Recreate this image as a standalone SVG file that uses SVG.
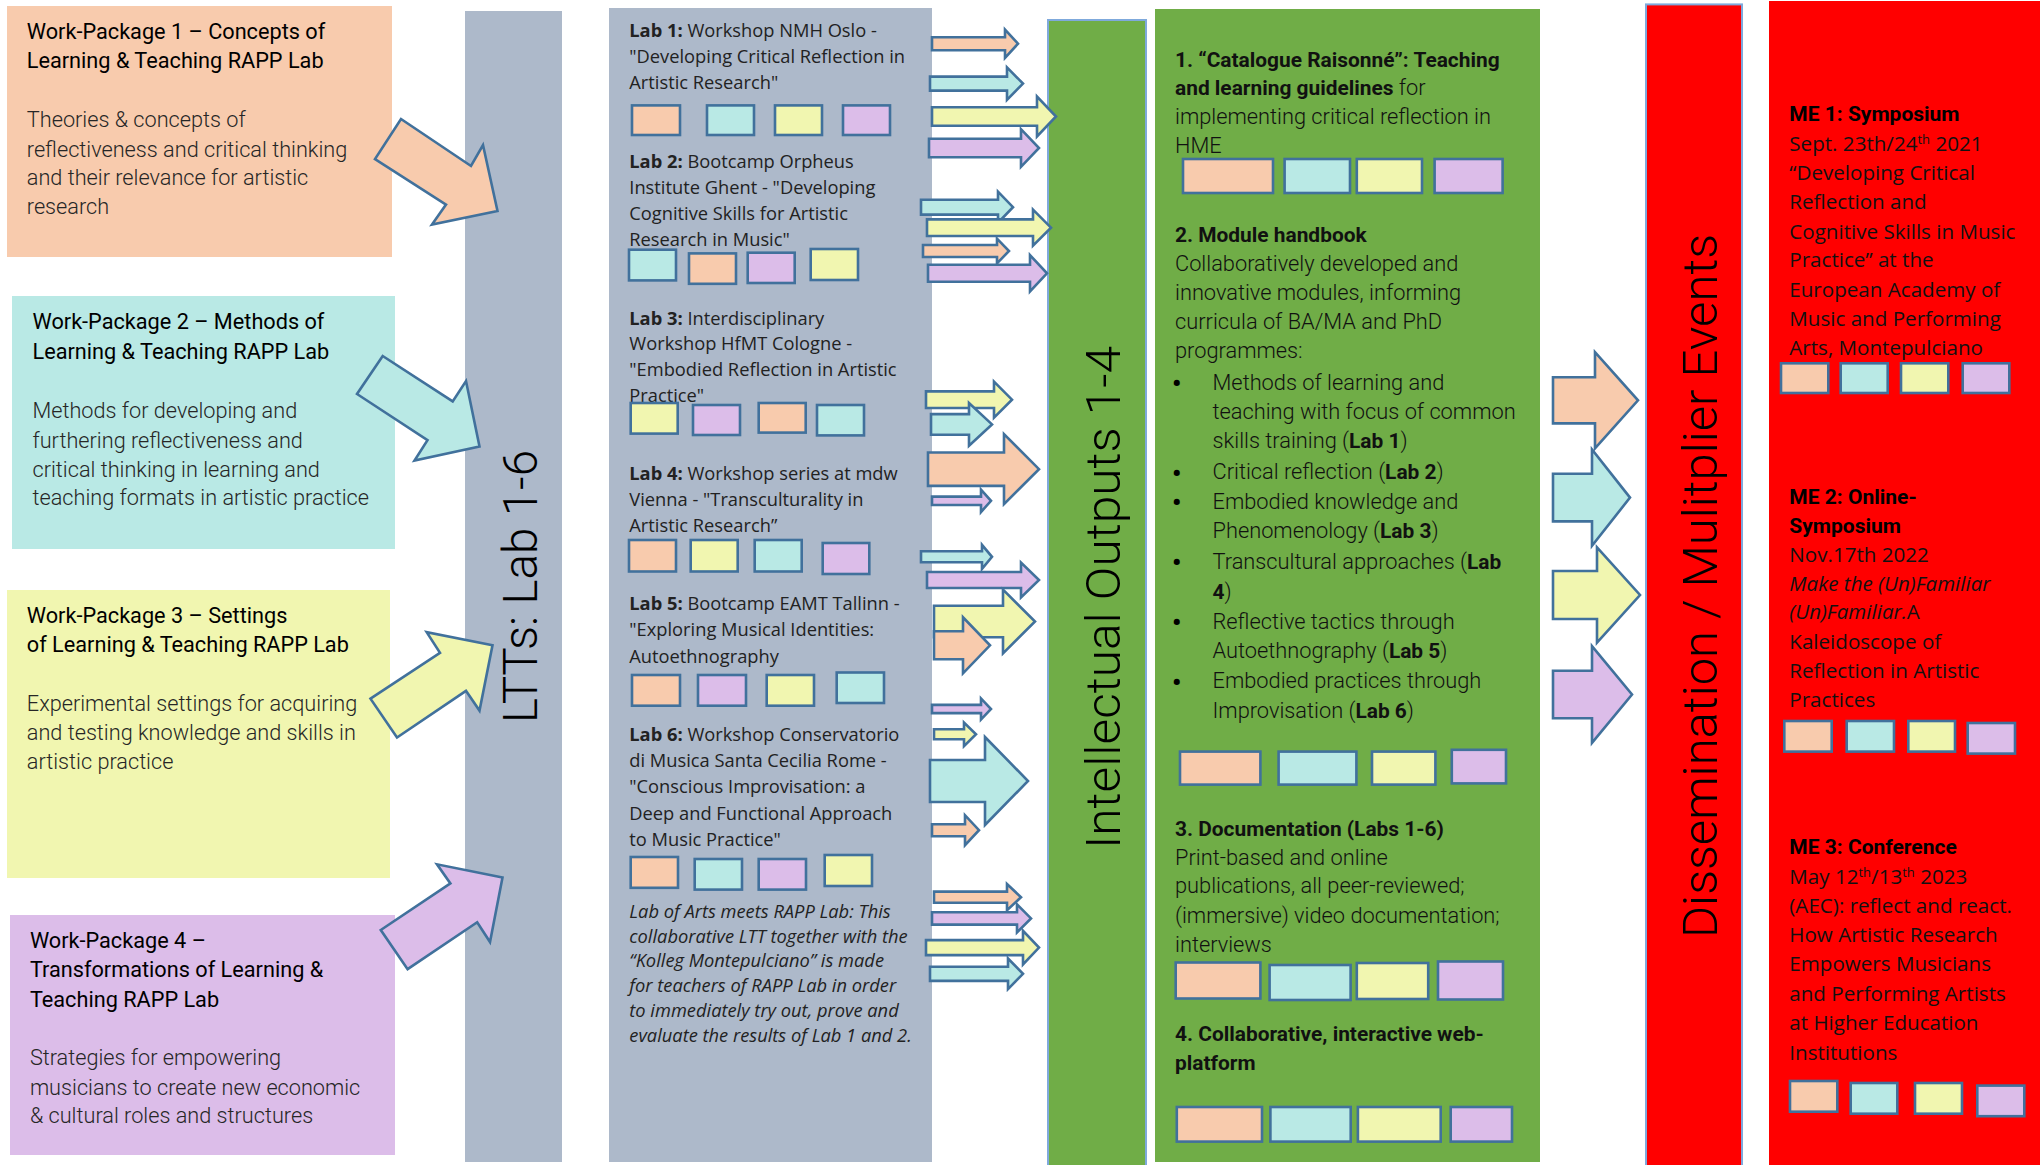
<svg xmlns="http://www.w3.org/2000/svg" width="2040" height="1165" viewBox="0 0 2040 1165">
<defs>
<style>
.wpt{font-family:Roboto,"Liberation Sans",sans-serif;font-size:21.7px;font-weight:400;fill:#000}
.wpb{font-family:Roboto,"Liberation Sans",sans-serif;font-size:21.7px;font-weight:300;fill:#262626}
.lab{font-family:"Open Sans","Liberation Sans",sans-serif;font-size:18.3px;fill:#222}
.labi{font-family:"Open Sans","Liberation Sans",sans-serif;font-size:18.3px;font-style:italic;fill:#222}
.io{font-family:Roboto,"Liberation Sans",sans-serif;font-size:21.8px;font-weight:300;fill:#111}
.io .b{font-size:20.9px}
.bul{font-family:Roboto,"Liberation Sans",sans-serif;font-size:26px;font-weight:700;fill:#000}
.me{font-family:"Open Sans","Liberation Sans",sans-serif;font-size:20.6px;fill:#111}
.meb{font-family:Roboto,"Liberation Sans",sans-serif;font-size:21px;font-weight:700;fill:#000}
.b{font-weight:700}
.big{font-family:Roboto,"Liberation Sans",sans-serif;font-size:48px;font-weight:300;fill:#000}
.pe{fill:#F8CBAD}.te{fill:#B9E9E5}.ye{fill:#F1F6B0}.la{fill:#DCBDE9}
.sq rect{stroke:#41719C;stroke-width:2.6}
.ar polygon{stroke:#41719C;stroke-width:2.6;stroke-linejoin:miter}
.bar{stroke:#7FA9DC;stroke-width:2}
</style>
</defs>
<rect width="2040" height="1165" fill="#fff"/>

<g id="wp1">
<rect x="7" y="6" width="385" height="251" class="pe"/>
<text class="wpt"><tspan x="26.8" y="38.8">Work-Package 1 – Concepts of</tspan><tspan x="26.8" y="68.4">Learning &amp; Teaching RAPP Lab</tspan></text>
<text class="wpb"><tspan x="26.8" y="126.9">Theories &amp; concepts of</tspan><tspan x="26.8" y="156.5">reflectiveness and critical thinking</tspan><tspan x="26.8" y="185">and their relevance for artistic</tspan><tspan x="26.8" y="213.8">research</tspan></text>
</g>
<g id="wp2">
<rect x="12" y="296" width="383" height="253" class="te"/>
<text class="wpt"><tspan x="32.5" y="329">Work-Package 2 – Methods of</tspan><tspan x="32.5" y="359">Learning &amp; Teaching RAPP Lab</tspan></text>
<text class="wpb"><tspan x="32.5" y="418">Methods for developing and</tspan><tspan x="32.5" y="447.6">furthering reflectiveness and</tspan><tspan x="32.5" y="476.5">critical thinking in learning and</tspan><tspan x="32.5" y="505.4">teaching formats in artistic practice</tspan></text>
</g>
<g id="wp3">
<rect x="7" y="590" width="383" height="288" class="ye"/>
<text class="wpt"><tspan x="26.8" y="622.9">Work-Package 3 – Settings</tspan><tspan x="26.8" y="651.6">of Learning &amp; Teaching RAPP Lab</tspan></text>
<text class="wpb"><tspan x="26.8" y="711.3">Experimental settings for acquiring</tspan><tspan x="26.8" y="740.4">and testing knowledge and skills in</tspan><tspan x="26.8" y="769.2">artistic practice</tspan></text>
</g>
<g id="wp4">
<rect x="10" y="915" width="385" height="240" class="la"/>
<text class="wpt"><tspan x="29.9" y="948.3">Work-Package 4 –</tspan><tspan x="29.9" y="977.4">Transformations of Learning &amp;</tspan><tspan x="29.9" y="1006.5">Teaching RAPP Lab</tspan></text>
<text class="wpb"><tspan x="29.9" y="1065">Strategies for empowering</tspan><tspan x="29.9" y="1095">musicians to create new economic</tspan><tspan x="29.9" y="1123.3">&amp; cultural roles and structures</tspan></text>
</g>

<g id="ltt">
<rect x="465" y="11" width="97" height="1151" fill="#ADB9CA"/>
<text class="big" transform="translate(536.5,586.5) rotate(-90)" text-anchor="middle" textLength="273" lengthAdjust="spacingAndGlyphs">LTTs: Lab 1-6</text>
</g>

<g id="labs">
<rect x="609" y="8" width="323" height="1154" fill="#ADB9CA"/>
<text class="lab"><tspan x="629.3" y="37"><tspan class="b">Lab 1:</tspan> Workshop NMH Oslo -</tspan><tspan x="629.3" y="62.9">"Developing Critical Reflection in</tspan><tspan x="629.3" y="88.8">Artistic Research"</tspan></text>
<text class="lab"><tspan x="629.3" y="168.3"><tspan class="b">Lab 2:</tspan> Bootcamp Orpheus</tspan><tspan x="629.3" y="194.2">Institute Ghent - "Developing</tspan><tspan x="629.3" y="220.1">Cognitive Skills for Artistic</tspan><tspan x="629.3" y="246">Research in Music"</tspan></text>
<text class="lab"><tspan x="629.3" y="324.5"><tspan class="b">Lab 3:</tspan> Interdisciplinary</tspan><tspan x="629.3" y="350.4">Workshop HfMT Cologne -</tspan><tspan x="629.3" y="376.3">"Embodied Reflection in Artistic</tspan><tspan x="629.3" y="402.2">Practice"</tspan></text>
<text class="lab"><tspan x="629.3" y="480.2"><tspan class="b">Lab 4:</tspan> Workshop series at mdw</tspan><tspan x="629.3" y="506">Vienna - "Transculturality in</tspan><tspan x="629.3" y="532">Artistic Research”</tspan></text>
<text class="lab"><tspan x="629.3" y="609.9"><tspan class="b">Lab 5:</tspan> Bootcamp EAMT Tallinn -</tspan><tspan x="629.3" y="636">"Exploring Musical Identities:</tspan><tspan x="629.3" y="662.8">Autoethnography</tspan></text>
<text class="lab"><tspan x="629.3" y="741.2"><tspan class="b">Lab 6:</tspan> Workshop Conservatorio</tspan><tspan x="629.3" y="767.3">di Musica Santa Cecilia Rome -</tspan><tspan x="629.3" y="793.4">"Conscious Improvisation: a</tspan><tspan x="629.3" y="819.6">Deep and Functional Approach</tspan><tspan x="629.3" y="845.7">to Music Practice"</tspan></text>
<text class="labi"><tspan x="629.3" y="917.7">Lab of Arts meets RAPP Lab: This</tspan><tspan x="629.3" y="942.7">collaborative LTT together with the</tspan><tspan x="629.3" y="967.3">“Kolleg Montepulciano” is made</tspan><tspan x="629.3" y="992.3">for teachers of RAPP Lab in order</tspan><tspan x="629.3" y="1016.6">to immediately try out, prove and</tspan><tspan x="629.3" y="1041.6">evaluate the results of Lab 1 and 2.</tspan></text>
<g class="sq">
<rect x="632" y="105.4" width="48" height="29.6" class="pe"/><rect x="707" y="105.4" width="47" height="29.6" class="te"/><rect x="775" y="105.4" width="47" height="29.6" class="ye"/><rect x="843" y="105.4" width="47" height="29.6" class="la"/>
<rect x="629" y="249.7" width="47" height="30.7" class="te"/><rect x="689" y="253.4" width="47" height="30.4" class="pe"/><rect x="747.7" y="252.7" width="47" height="30.3" class="la"/><rect x="810.7" y="249" width="47.3" height="31" class="ye"/>
<rect x="630.7" y="403" width="47" height="30.6" class="ye"/><rect x="693" y="405" width="47" height="30" class="la"/><rect x="758.7" y="403" width="47" height="29.6" class="pe"/><rect x="817" y="405" width="47" height="30.4" class="te"/>
<rect x="629" y="540" width="47" height="31.5" class="pe"/><rect x="690.7" y="540" width="47" height="31.5" class="ye"/><rect x="754.7" y="540" width="47" height="31.5" class="te"/><rect x="822.7" y="543" width="46.6" height="31" class="la"/>
<rect x="632" y="675" width="48" height="30.7" class="pe"/><rect x="698" y="675" width="48" height="30.7" class="la"/><rect x="766.7" y="675" width="47.3" height="30.7" class="ye"/><rect x="836.7" y="672.5" width="47.3" height="30.5" class="te"/>
<rect x="630.7" y="857" width="47.3" height="30.8" class="pe"/><rect x="694.7" y="859" width="47.3" height="30.6" class="te"/><rect x="758.7" y="859" width="47.3" height="30.6" class="la"/><rect x="824.7" y="855" width="47.3" height="31" class="ye"/>
</g>
</g>

<g id="io-bar">
<rect x="1048" y="20" width="98" height="1150" fill="#70AD47" class="bar"/>
<text class="big" transform="translate(1120,597.5) rotate(-90)" text-anchor="middle" textLength="503" lengthAdjust="spacingAndGlyphs">Intellectual Outputs 1-4</text>
</g>

<g id="io">
<rect x="1155" y="9" width="385" height="1153" fill="#70AD47"/>
<text class="io"><tspan x="1175" y="66.6" class="b">1. “Catalogue Raisonné”: Teaching</tspan><tspan x="1175" y="95.4"><tspan class="b">and learning guidelines</tspan> for</tspan><tspan x="1175" y="124">implementing critical reflection in</tspan><tspan x="1175" y="152.8">HME</tspan></text>
<text class="io"><tspan x="1175" y="242.3" class="b">2. Module handbook</tspan><tspan x="1175" y="271.2">Collaboratively developed and</tspan><tspan x="1175" y="300.4">innovative modules, informing</tspan><tspan x="1175" y="329.3">curricula of BA/MA and PhD</tspan><tspan x="1175" y="358.1">programmes:</tspan></text>
<text class="bul"><tspan x="1172" y="392">•</tspan><tspan x="1172" y="481.5">•</tspan><tspan x="1172" y="511.1">•</tspan><tspan x="1172" y="571">•</tspan><tspan x="1172" y="630.9">•</tspan><tspan x="1172" y="690.6">•</tspan></text>
<text class="io"><tspan x="1212.5" y="389.6">Methods of learning and</tspan><tspan x="1212.5" y="419.2">teaching with focus of common</tspan><tspan x="1212.5" y="448.4">skills training (<tspan class="b">Lab 1</tspan>)</tspan><tspan x="1212.5" y="479.1">Critical reflection (<tspan class="b">Lab 2</tspan>)</tspan><tspan x="1212.5" y="508.7">Embodied knowledge and</tspan><tspan x="1212.5" y="538.3">Phenomenology (<tspan class="b">Lab 3</tspan>)</tspan><tspan x="1212.5" y="568.6">Transcultural approaches (<tspan class="b">Lab</tspan></tspan><tspan x="1212.5" y="598.7"><tspan class="b">4</tspan>)</tspan><tspan x="1212.5" y="628.5">Reflective tactics through</tspan><tspan x="1212.5" y="658.4">Autoethnography (<tspan class="b">Lab 5</tspan>)</tspan><tspan x="1212.5" y="688.2">Embodied practices through</tspan><tspan x="1212.5" y="718">Improvisation (<tspan class="b">Lab 6</tspan>)</tspan></text>
<text class="io"><tspan x="1175" y="835.6" class="b">3. Documentation (Labs 1-6)</tspan><tspan x="1175" y="864.7">Print-based and online</tspan><tspan x="1175" y="893.4">publications, all peer-reviewed;</tspan><tspan x="1175" y="923.3">(immersive) video documentation;</tspan><tspan x="1175" y="952.4">interviews</tspan></text>
<text class="io"><tspan x="1175" y="1040.8" class="b">4. Collaborative, interactive web-</tspan><tspan x="1175" y="1069.6" class="b">platform</tspan></text>
<g class="sq">
<rect x="1183" y="159" width="90" height="34" class="pe"/><rect x="1284.6" y="159" width="65.4" height="34" class="te"/><rect x="1356.8" y="159" width="65.2" height="34" class="ye"/><rect x="1434.6" y="159" width="68" height="34" class="la"/>
<rect x="1180" y="751.6" width="80.4" height="33" class="pe"/><rect x="1278.6" y="751.6" width="77.8" height="33" class="te"/><rect x="1372" y="751.6" width="63.4" height="33" class="ye"/><rect x="1451.8" y="749.8" width="54.2" height="33.6" class="la"/>
<rect x="1175.7" y="962.5" width="84.7" height="36" class="pe"/><rect x="1269.6" y="965" width="81" height="35" class="te"/><rect x="1356.8" y="963" width="71.4" height="36" class="ye"/><rect x="1438" y="961.5" width="65" height="38" class="la"/>
<rect x="1176.8" y="1107" width="85.2" height="34.6" class="pe"/><rect x="1270.4" y="1107" width="80.3" height="34.6" class="te"/><rect x="1357.9" y="1107" width="82.8" height="34.6" class="ye"/><rect x="1450.7" y="1107" width="61.3" height="34.6" class="la"/>
</g>
</g>

<g id="dm-bar">
<rect x="1646" y="4.4" width="96" height="1165" fill="#FF0000" class="bar"/>
<text class="big" transform="translate(1716.7,586) rotate(-90)" text-anchor="middle" textLength="704" lengthAdjust="spacingAndGlyphs">Dissemination / Mulitplier Events</text>
</g>

<g id="me">
<rect x="1769" y="1" width="271" height="1164" fill="#FF0000"/>
<text class="meb" x="1789.3" y="121.3">ME 1: Symposium</text>
<text class="me"><tspan x="1789.3" y="151">Sept. 23th/24<tspan dy="-7" font-size="13">th</tspan><tspan dy="7"> 2021</tspan></tspan><tspan x="1789.3" y="180.2">“Developing Critical</tspan><tspan x="1789.3" y="209">Reflection and</tspan><tspan x="1789.3" y="238.6">Cognitive Skills in Music</tspan><tspan x="1789.3" y="267">Practice” at the</tspan><tspan x="1789.3" y="296.7">European Academy of</tspan><tspan x="1789.3" y="326.3">Music and Performing</tspan><tspan x="1789.3" y="355.2">Arts, Montepulciano</tspan></text>
<text class="meb"><tspan x="1789.3" y="503.9">ME 2: Online-</tspan><tspan x="1789.3" y="532.7">Symposium</tspan></text>
<text class="me"><tspan x="1789.3" y="561.6">Nov.17th 2022</tspan><tspan x="1789.3" y="590.6" font-style="italic">Make the (Un)Familiar</tspan><tspan x="1789.3" y="619.2"><tspan font-style="italic">(Un)Familiar.</tspan>A</tspan><tspan x="1789.3" y="649">Kaleidoscope of</tspan><tspan x="1789.3" y="678.1">Reflection in Artistic</tspan><tspan x="1789.3" y="706.9">Practices</tspan></text>
<text class="meb" x="1789.3" y="854.3">ME 3: Conference</text>
<text class="me"><tspan x="1789.3" y="884">May 12<tspan dy="-7" font-size="13">th</tspan><tspan dy="7">/13</tspan><tspan dy="-7" font-size="13">th</tspan><tspan dy="7"> 2023</tspan></tspan><tspan x="1789.3" y="913.2">(AEC): reflect and react.</tspan><tspan x="1789.3" y="942">How Artistic Research</tspan><tspan x="1789.3" y="971">Empowers Musicians</tspan><tspan x="1789.3" y="1000.9">and Performing Artists</tspan><tspan x="1789.3" y="1029.6">at Higher Education</tspan><tspan x="1789.3" y="1059.5">Institutions</tspan></text>
<g class="sq">
<rect x="1781" y="363.3" width="47.3" height="29.7" class="pe"/><rect x="1840.7" y="363.3" width="47" height="29.7" class="te"/><rect x="1901" y="363.3" width="47.3" height="29.7" class="ye"/><rect x="1962.7" y="363.3" width="46.6" height="29.7" class="la"/>
<rect x="1784.3" y="721" width="47.4" height="30.6" class="pe"/><rect x="1846.7" y="721" width="47.3" height="30.6" class="te"/><rect x="1908.3" y="721" width="46.7" height="30.6" class="ye"/><rect x="1967.7" y="723" width="47.3" height="30.6" class="la"/>
<rect x="1790" y="1081" width="47.3" height="30.7" class="pe"/><rect x="1850.7" y="1083" width="46.6" height="30.7" class="te"/><rect x="1915" y="1083" width="47" height="30.7" class="ye"/><rect x="1977.3" y="1085.6" width="47" height="30.6" class="la"/>
</g>
</g>

<g id="connectors" class="ar">
<polygon class="pe" points="401,119 471,166 483,145 497.5,211 432,224.6 446,204.6 375,159"/>
<polygon class="te" points="382.7,356 452.7,401.4 466,381 479.5,446.5 414.5,460.6 427.5,440.2 357,394"/>
<polygon class="ye" points="370.5,698.7 440,652.8 426.7,632.2 492.5,645.3 479.5,710.6 466,690.8 397,737.5"/>
<polygon class="la" points="380.8,930 450.4,883.4 437,864.3 502.5,877.4 490,942 477.2,922.2 407.6,969.2"/>
<polygon class="pe" points="932,37.2 1005,37.2 1005,29.5 1018,43.7 1005,57.9 1005,50.2 932,50.2"/>
<polygon class="te" points="930,76.6 1007,76.6 1007,67.4 1023,83.6 1007,99.8 1007,90.6 930,90.6"/>
<polygon class="ye" points="932,107.3 1037,107.3 1037,96.5 1056,116.5 1037,136.5 1037,125.7 932,125.7"/>
<polygon class="la" points="929,138.8 1021,138.8 1021,129.2 1039,148 1021,166.8 1021,157.2 929,157.2"/>
<polygon class="te" points="921,199.8 998,199.8 998,191.7 1013,207.2 998,222.7 998,214.6 921,214.6"/>
<polygon class="ye" points="927,219.4 1033,219.4 1033,209.7 1051,227.7 1033,245.7 1033,236 927,236"/>
<polygon class="pe" points="923,245 997,245 997,238.6 1009,251 997,263.4 997,257 923,257"/>
<polygon class="la" points="928,264.8 1030,264.8 1030,255.1 1047,273.3 1030,291.5 1030,281.8 928,281.8"/>
<polygon class="ye" points="926,391.4 994,391.4 994,381.7 1012,399.7 994,417.7 994,408 926,408"/>
<polygon class="te" points="931,414.1 969,414.1 969,403 992,424.4 969,445.8 969,434.7 931,434.7"/>
<polygon class="pe" points="928,452.5 1004,452.5 1004,434.2 1039,469.2 1004,504.2 1004,485.9 928,485.9"/>
<polygon class="la" points="932,496.6 981,496.6 981,489.6 991,500.8 981,512 981,505 932,505"/>
<polygon class="te" points="921,551.3 982,551.3 982,544.8 992,556.8 982,568.8 982,562.3 921,562.3"/>
<polygon class="la" points="927,572 1021,572 1021,562.5 1039,580 1021,597.5 1021,588 927,588"/>
<polygon class="ye" points="934,605.7 1003,605.7 1003,589.7 1035,621.5 1003,653.3 1003,637.3 934,637.3"/>
<polygon class="pe" points="934,631.3 963,631.3 963,617.3 990,645.3 963,673.3 963,659.3 934,659.3"/>
<polygon class="la" points="932,704.9 981,704.9 981,698.4 991,709 981,719.6 981,713.1 932,713.1"/>
<polygon class="ye" points="934,729.3 964,729.3 964,722.5 976,734.3 964,746.1 964,739.3 934,739.3"/>
<polygon class="te" points="930,760 985,760 985,737 1028,781 985,825 985,802 930,802"/>
<polygon class="pe" points="932,824.2 965,824.2 965,815.2 979,830.2 965,845.2 965,836.2 932,836.2"/>
<polygon class="pe" points="934,891.6 1007,891.6 1007,884.1 1021,897.2 1007,910.3 1007,902.8 934,902.8"/>
<polygon class="la" points="932,912.2 1017,912.2 1017,904.4 1031,918.4 1017,932.4 1017,924.6 932,924.6"/>
<polygon class="ye" points="926,940.1 1023,940.1 1023,930.8 1039,947.6 1023,964.4 1023,955.1 926,955.1"/>
<polygon class="te" points="930,966.7 1008,966.7 1008,958.5 1023,973.8 1008,989.1 1008,980.9 930,980.9"/>
<polygon class="pe" points="1553,377.2 1595,377.2 1595,352.2 1638,400.3 1595,448.4 1595,423.4 1553,423.4"/>
<polygon class="te" points="1553,473.8 1592,473.8 1592,449.5 1630,497.6 1592,545.7 1592,521.4 1553,521.4"/>
<polygon class="ye" points="1553,571 1597,571 1597,547.4 1640,595 1597,642.6 1597,619 1553,619"/>
<polygon class="la" points="1553,670.8 1592,670.8 1592,646.2 1632,694.5 1592,742.8 1592,718.2 1553,718.2"/>
</g>
</svg>
